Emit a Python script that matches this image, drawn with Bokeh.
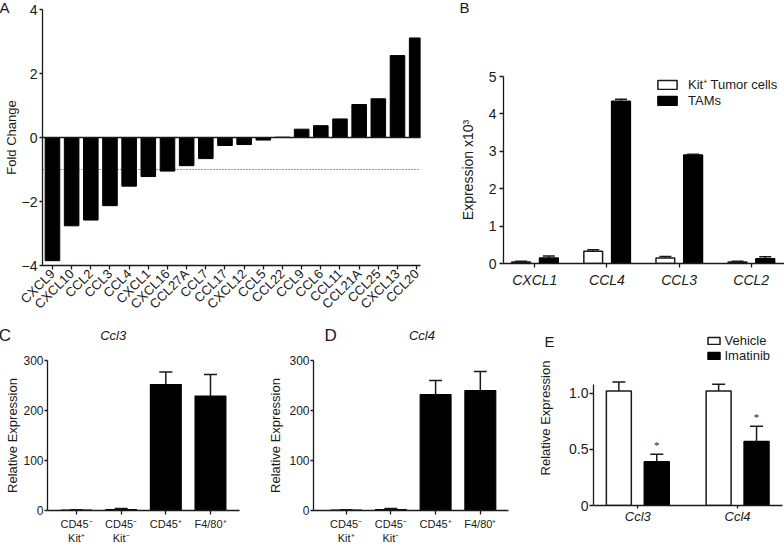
from bokeh.plotting import figure
from bokeh.models import (Range1d, FixedTicker, Span, Label, Legend, LegendItem,
                          ColumnDataSource)
from bokeh.layouts import row, column
from bokeh.transform import dodge
from bokeh.embed import file_html
from bokeh.resources import INLINE

FONT = "Liberation Sans"
INK = "#1a1a1a"

# ---------------- data ----------------
# Panel A: fold change
a_genes = ["CXCL9", "CXCL10", "CCL2", "CCL3", "CCL4", "CXCL1", "CXCL16", "CCL27A",
           "CCL7", "CCL17", "CXCL12", "CCL5", "CCL22", "CCL9", "CCL6", "CCL11",
           "CCL21A", "CCL25", "CXCL13", "CCL20"]
a_fold = [-3.85, -2.76, -2.58, -2.13, -1.52, -1.22, -1.05, -0.88, -0.66, -0.25,
          -0.22, -0.08, 0.01, 0.26, 0.37, 0.58, 1.03, 1.21, 2.56, 3.11]
a_ref_line = -1.0

# Panel B: expression x10^3
b_genes = ["CXCL1", "CCL4", "CCL3", "CCL2"]
b_tumor = [0.04, 0.33, 0.15, 0.04]
b_tumor_err = [0.02, 0.04, 0.04, 0.02]
b_tam = [0.15, 4.34, 2.90, 0.13]
b_tam_err = [0.05, 0.05, 0.02, 0.05]
b_series = ["Kit⁺ Tumor cells", "TAMs"]

# Panels C, D: relative expression by population
cd_pops = ["CD45⁻\nKit⁺", "CD45⁻\nKit⁻", "CD45⁺", "F4/80⁺"]
c_vals = [1, 2, 252, 229]
c_err = [0.5, 2, 25, 43]
d_vals = [1, 2, 232, 240]
d_err = [0.5, 2, 28, 38]

# Panel E: vehicle vs imatinib
e_genes = ["Ccl3", "Ccl4"]
e_vehicle = [1.02, 1.02]
e_vehicle_err = [0.08, 0.06]
e_imatinib = [0.39, 0.57]
e_imatinib_err = [0.067, 0.135]
e_series = ["Vehicle", "Imatinib"]
e_sig = ["*", "*"]


# ---------------- helpers ----------------
def make(w, h, l, r, t, b, xr, yr):
    p = figure(width=w, height=h, x_range=xr, y_range=yr, output_backend="svg",
               toolbar_location=None, title=None, frame_align=False,
               min_border_left=l, min_border_right=r, min_border_top=t,
               min_border_bottom=b)
    p.xgrid.visible = False
    p.ygrid.visible = False
    p.outline_line_color = None
    for ax in p.axis:
        ax.axis_line_color = INK
        ax.axis_line_width = 1.3
        ax.major_tick_line_color = INK
        ax.major_tick_line_width = 1.3
        ax.minor_tick_line_color = None
        ax.major_tick_in = 0
        ax.major_tick_out = 4
        ax.major_label_text_font = FONT
        ax.axis_label_text_font = FONT
        ax.major_label_text_color = INK
        ax.axis_label_text_color = INK
        ax.axis_label_text_font_style = "normal"
    return p


def side_text(p, side, txt, x, y, size="15px", style="normal", align="left",
              baseline="top"):
    p.add_layout(Label(x=x, y=y, x_units="screen", y_units="screen", text=txt,
                       text_font=FONT, text_font_size=size, text_font_style=style,
                       text_color=INK, text_align=align, text_baseline=baseline),
                 side)


def errbars(p, src, xspec, base, upper, cap):
    p.segment(x0=xspec, y0=base, x1=xspec, y1=upper, source=src,
              line_color=INK, line_width=1.5)
    p.scatter(x=xspec, y=upper, source=src, marker="dash", size=cap,
              line_color=INK, line_width=1.5)


# ---------------- Panel A ----------------
xa = list(range(len(a_genes)))
srcA = ColumnDataSource(dict(x=xa, v=a_fold))
pA = make(430, 323, 41, 2, 9, 58, Range1d(-0.52, 19.2), Range1d(-4, 4))
pA.add_layout(Span(location=a_ref_line, dimension="width", line_color="#333333",
                   line_width=1.2, line_dash="1 2", level="underlay"))
pA.vbar(x="x", top="v", bottom=0, width=0.76, source=srcA,
        fill_color="black", line_color="black")
pA.add_layout(Span(location=0, dimension="width", line_color=INK, line_width=1.5))
pA.xaxis.ticker = FixedTicker(ticks=xa)
pA.xaxis.major_label_overrides = {i: g for i, g in zip(xa, a_genes)}
pA.xaxis.major_label_orientation = 0.785398
pA.xaxis.major_label_text_font_size = "13px"
pA.xaxis.major_label_standoff = 2
pA.yaxis.ticker = FixedTicker(ticks=[-4, -2, 0, 2, 4])
pA.yaxis.major_label_text_font_size = "14px"
pA.yaxis.major_tick_out = 3
pA.yaxis.major_label_standoff = 2
pA.yaxis.axis_label = "Fold Change"
pA.yaxis.axis_label_text_font_size = "13px"
pA.yaxis.axis_label_standoff = 0
pA.yaxis.bounds = (-4, 4)
side_text(pA, "right", "A", -421, 267)

# ---------------- Panel B ----------------
xb = list(range(len(b_genes)))
srcB = ColumnDataSource(dict(x=xb, w=b_tumor, we=[a + b for a, b in zip(b_tumor, b_tumor_err)],
                             k=b_tam, ke=[a + b for a, b in zip(b_tam, b_tam_err)]))
pB = make(354, 323, 73, 0, 76, 60, Range1d(-0.434, 3.462), Range1d(0, 5))
rw = pB.vbar(x=dodge("x", -0.19), top="w", bottom=0, width=0.26, source=srcB,
             fill_color="white", line_color=INK, line_width=1.5)
rk = pB.vbar(x=dodge("x", 0.195), top="k", bottom=0, width=0.26, source=srcB,
             fill_color="black", line_color="black", line_width=1.5)
errbars(pB, srcB, dodge("x", -0.19), "w", "we", 12)
errbars(pB, srcB, dodge("x", 0.195), "k", "ke", 12)
pB.xaxis.ticker = FixedTicker(ticks=xb)
pB.xaxis.major_label_overrides = {i: g for i, g in zip(xb, b_genes)}
pB.xaxis.major_label_text_font_size = "14px"
pB.xaxis.major_label_text_font_style = "italic"
pB.xaxis.major_label_standoff = 4
pB.yaxis.ticker = FixedTicker(ticks=[0, 1, 2, 3, 4, 5])
pB.yaxis.major_label_text_font_size = "14px"
pB.yaxis.major_label_standoff = 3
pB.yaxis.axis_label = "Expression x10³"
pB.yaxis.axis_label_text_font_size = "14px"
pB.yaxis.axis_label_standoff = 10
pB.yaxis.bounds = (0, 5)
legB = Legend(items=[LegendItem(label=b_series[0], renderers=[rw]),
                     LegendItem(label=b_series[1], renderers=[rk])],
              location=(152, 155), glyph_width=24, glyph_height=11,
              label_text_font=FONT, label_text_font_size="13px",
              label_text_color=INK, label_standoff=9, spacing=-6, padding=0,
              margin=0, label_height=12, border_line_color=None,
              background_fill_alpha=0)
pB.add_layout(legB)
side_text(pB, "above", "B", -44, 78)


# ---------------- Panels C, D ----------------
def pop_panel(w, l, r, xr, vals, errs, title, tx, lx, name, stand):
    xs = list(range(len(cd_pops)))
    src = ColumnDataSource(dict(x=xs, v=vals, u=[a + b for a, b in zip(vals, errs)]))
    p = make(w, 223, l, r, 37, 36, xr, Range1d(0, 300))
    p.vbar(x="x", top="v", bottom=0, width=0.69, source=src,
           fill_color="black", line_color="black", line_width=1.2)
    errbars(p, src, "x", "v", "u", 13)
    p.xaxis.ticker = FixedTicker(ticks=xs)
    p.xaxis.major_label_overrides = {i: g for i, g in zip(xs, cd_pops)}
    p.xaxis.major_label_text_font_size = "11px"
    p.xaxis.major_label_standoff = 3
    p.yaxis.ticker = FixedTicker(ticks=[0, 100, 200, 300])
    p.yaxis.major_label_text_font_size = "12px"
    p.yaxis.major_tick_out = 3
    p.yaxis.major_label_standoff = 1
    p.yaxis.axis_label = "Relative Expression"
    p.yaxis.axis_label_text_font_size = "13px"
    p.yaxis.axis_label_standoff = stand
    p.yaxis.bounds = (0, 300)
    side_text(p, "above", title, tx, 25, size="13px", style="italic",
              align="center", baseline="middle")
    side_text(p, "right", name, lx, 185, size="17px")
    return p


pC = pop_panel(260, 47, 21, Range1d(-0.65, 3.65), c_vals, c_err, "Ccl3", 65.7, -240.7, "C", 0)
pD = pop_panel(260, 53, 9, Range1d(-0.73, 3.63), d_vals, d_err, "Ccl4", 108.4, -184, "D", 3)

# ---------------- Panel E ----------------
xe = list(range(len(e_genes)))
srcE = ColumnDataSource(dict(
    x=xe, v=e_vehicle, vu=[a + b for a, b in zip(e_vehicle, e_vehicle_err)],
    m=e_imatinib, mu=[a + b for a, b in zip(e_imatinib, e_imatinib_err)], s=e_sig))
pE = make(264, 223, 73, 2, 7, 41, Range1d(-0.444, 1.45), Range1d(0, 1.558))
rv = pE.vbar(x=dodge("x", -0.19), top="v", bottom=0, width=0.25, source=srcE,
             fill_color="white", line_color=INK, line_width=1.5)
rm = pE.vbar(x=dodge("x", 0.19), top="m", bottom=0, width=0.25, source=srcE,
             fill_color="black", line_color="black", line_width=1.5)
errbars(pE, srcE, dodge("x", -0.19), "v", "vu", 13)
errbars(pE, srcE, dodge("x", 0.19), "m", "mu", 13)
pE.text(x=dodge("x", 0.19), y="mu", text="s", source=srcE, y_offset=-3,
        text_font=FONT, text_font_size="11px", text_color=INK,
        text_align="center", text_baseline="bottom")
pE.xaxis.ticker = FixedTicker(ticks=xe)
pE.xaxis.major_label_overrides = {i: g for i, g in zip(xe, e_genes)}
pE.xaxis.major_label_text_font_size = "13px"
pE.xaxis.major_label_text_font_style = "italic"
pE.xaxis.major_tick_out = 3
pE.xaxis.major_label_standoff = 0
pE.yaxis.ticker = FixedTicker(ticks=[0, 0.5, 1.0])
pE.yaxis.major_label_overrides = {0: "0", 0.5: "0.5", 1: "1.0"}
pE.yaxis.major_label_text_font_size = "14px"
pE.yaxis.major_label_standoff = 1
pE.yaxis.axis_label = "Relative Expression"
pE.yaxis.axis_label_text_font_size = "13px"
pE.yaxis.axis_label_standoff = 13
pE.yaxis.bounds = (0, 1.08)
legE = Legend(items=[LegendItem(label=e_series[0], renderers=[rv]),
                     LegendItem(label=e_series[1], renderers=[rm])],
              location=(112.5, 142), glyph_width=15, glyph_height=9,
              label_text_font=FONT, label_text_font_size="13px",
              label_text_color=INK, label_standoff=4, spacing=-2, padding=0,
              margin=0, label_height=12, border_line_color=None,
              background_fill_alpha=0)
pE.add_layout(legE)
side_text(pE, "left", "E", 19, 173)

layout = column(row(pA, pB), row(pC, pD, pE))
open("out.html", "w").write(file_html(layout, INLINE))
